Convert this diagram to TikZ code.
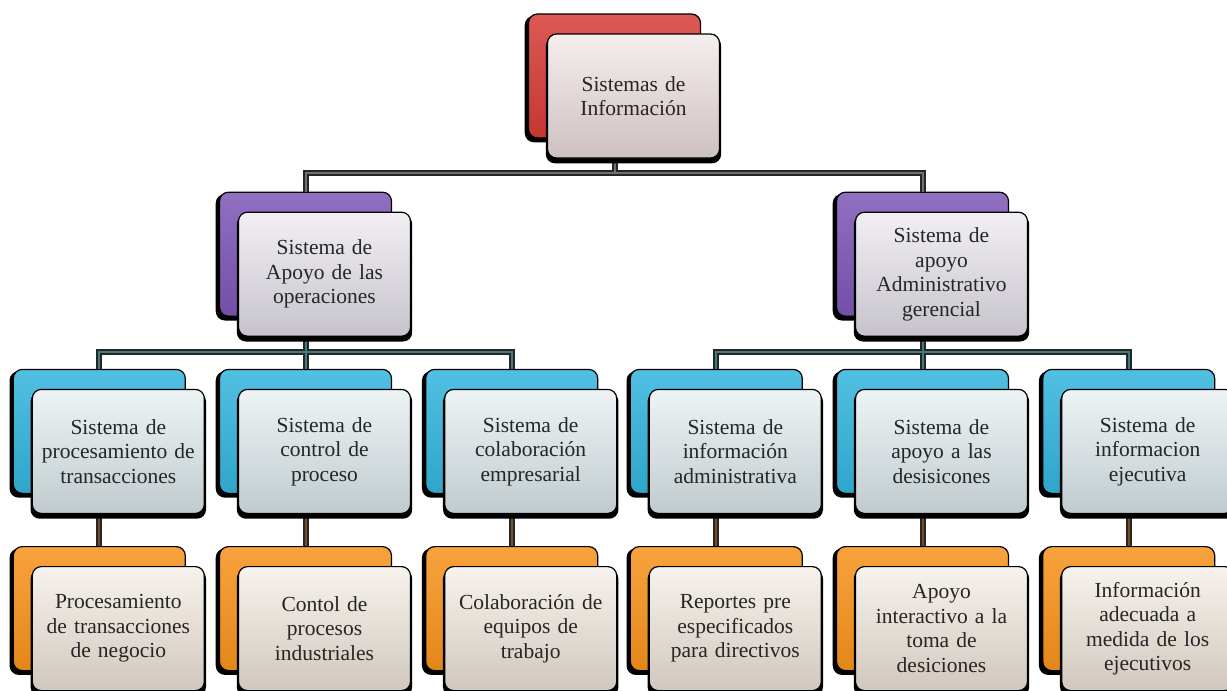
\documentclass[tikz,border=0pt]{standalone}
\usepackage{fontspec}
\setmainfont{Liberation Serif}
\usetikzlibrary{positioning,shadows}
\definecolor{rojo}{HTML}{D63C36}
\definecolor{morado}{HTML}{7D56B6}
\definecolor{celeste}{HTML}{33B4DC}
\definecolor{naranja}{HTML}{F7921C}
\definecolor{gris}{HTML}{707070}
\definecolor{verde}{HTML}{3F7C84}
\definecolor{cafe}{HTML}{7A4E24}

\begin{document}
\begin{tikzpicture}[
caja/.style={rectangle, rounded corners=9pt, minimum width=172pt, minimum height=124pt, inner sep=0pt,
  draw=black, line width=1.2pt, general shadow={fill=black, shadow scale=1.02, shadow xshift=-2pt, shadow yshift=-3pt},
  top color=#1!85!white, bottom color=#1!92!black},
cara/.style={rectangle, rounded corners=9pt, minimum width=172pt, minimum height=124pt, text width=168pt, inner sep=2pt,
  align=center, draw=black, line width=1.2pt, general shadow={fill=black, shadow scale=1.02, shadow yshift=-4pt},
  top color=#1!5!white!97!black, middle color=#1!8!white!92!black, bottom color=#1!10!white!82!black,
  text=black!85, font=\fontsize{21.5}{24.5}\selectfont},
linea/.style={draw=black!85, line width=6pt, postaction={draw=#1, line width=2pt}}
]
\useasboundingbox (0pt,0pt) rectangle (1227pt,-691pt);
%Nodes
\node[caja=rojo]     (si)     at (614.5pt,-76pt)              {};
\node[caja=morado]   (apo)    [below=53pt of si, xshift=-309pt]  {};
\node[caja=morado]   (adm)    [below=53pt of si, xshift=308pt]   {};
\node[caja=celeste]  (c2)     [below=52pt of apo]             {};
\node[caja=celeste]  (c1)     [left=33pt of c2]               {};
\node[caja=celeste]  (c3)     [right=33pt of c2]              {};
\node[caja=celeste]  (c5)     [below=52pt of adm]             {};
\node[caja=celeste]  (c4)     [left=33pt of c5]               {};
\node[caja=celeste]  (c6)     [right=33pt of c5]              {};
\foreach \i in {1,...,6}
  \node[caja=naranja] (p\i) [below=52pt of c\i] {};
%Lines
\draw[linea=gris]  (si.south) -- ++(0,-34pt) -| (apo.north) (si.south) ++(0,-34pt) -| (adm.north);
\draw[linea=verde] (apo.south) -- ++(0,-35pt) -| (c1.north) (apo.south) ++(0,-35pt) -| (c3.north) (apo.south) -- (c2.north);
\draw[linea=verde] (adm.south) -- ++(0,-35pt) -| (c4.north) (adm.south) ++(0,-35pt) -| (c6.north) (adm.south) -- (c5.north);
\foreach \i in {1,...,6}
  \draw[linea=cafe] (c\i.south) -- (p\i.north);
%Texts
\node[cara=rojo]    (si-t)  at ([shift={(19pt,-20pt)}]si.center)  {Sistemas de\\ Información};
\node[cara=morado]  (apo-t) at ([shift={(19pt,-20pt)}]apo.center) {Sistema de\\ Apoyo de las\\ operaciones};
\node[cara=morado]  (adm-t) at ([shift={(19pt,-20pt)}]adm.center) {Sistema de\\ apoyo\\ Administrativo\\ gerencial};
\node[cara=celeste] (c1-t)  at ([shift={(19pt,-20pt)}]c1.center)  {Sistema de\\ procesamiento de\\ transacciones};
\node[cara=celeste] (c2-t)  at ([shift={(19pt,-20pt)}]c2.center)  {Sistema de\\ control de\\ proceso};
\node[cara=celeste] (c3-t)  at ([shift={(19pt,-20pt)}]c3.center)  {Sistema de\\ colaboración\\ empresarial};
\node[cara=celeste] (c4-t)  at ([shift={(19pt,-20pt)}]c4.center)  {Sistema de\\ información\\ administrativa};
\node[cara=celeste] (c5-t)  at ([shift={(19pt,-20pt)}]c5.center)  {Sistema de\\ apoyo a las\\ desisicones};
\node[cara=celeste] (c6-t)  at ([shift={(19pt,-20pt)}]c6.center)  {Sistema de\\ informacion\\ ejecutiva};
\node[cara=naranja] (p1-t)  at ([shift={(19pt,-20pt)}]p1.center)  {Procesamiento\\ de transacciones\\ de negocio};
\node[cara=naranja] (p2-t)  at ([shift={(19pt,-20pt)}]p2.center)  {Contol de\\ procesos\\ industriales};
\node[cara=naranja] (p3-t)  at ([shift={(19pt,-20pt)}]p3.center)  {Colaboración de\\ equipos de\\ trabajo};
\node[cara=naranja] (p4-t)  at ([shift={(19pt,-20pt)}]p4.center)  {Reportes pre\\ especificados\\ para directivos};
\node[cara=naranja] (p5-t)  at ([shift={(19pt,-20pt)}]p5.center)  {Apoyo\\ interactivo a la\\ toma de\\ desiciones};
\node[cara=naranja] (p6-t)  at ([shift={(19pt,-20pt)}]p6.center)  {Información\\ adecuada a\\ medida de los\\ ejecutivos};
\end{tikzpicture}
\end{document}
